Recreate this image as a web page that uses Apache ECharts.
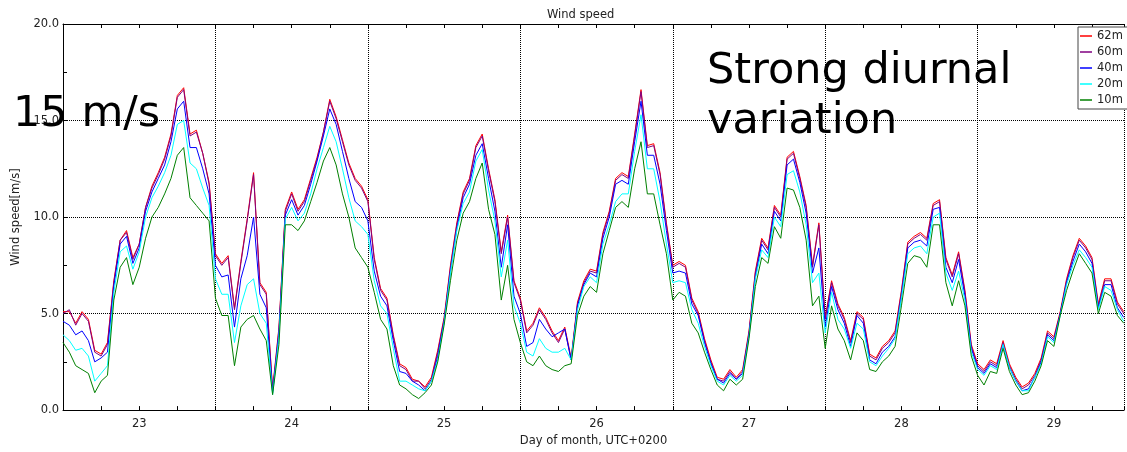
<!DOCTYPE html>
<html>
<head>
<meta charset="utf-8">
<script src="https://cdn.jsdelivr.net/npm/echarts@6/dist/echarts.min.js"></script>
<style>
html,body{margin:0;padding:0;background:#fff;}
#chart{width:1127px;height:452px;}
</style>
</head>
<body>
<div id="chart"></div>
<script>
// Hourly samples starting at day 22.5 (start of the plotted range)
const startDay = 22.5;
const samplesPerDay = 24;
const seriesNames = ['62m', '60m', '40m', '20m', '10m'];
const seriesColors = ['#ff0000', '#800080', '#0000ff', '#00ffff', '#008000'];
const dayTicks = [23, 24, 25, 26, 27, 28, 29];

const v62 = [
5.1,5.1,4.5,5.1,4.7,3.1,2.9,3.5,6.7,8.8,9.3,7.9,
8.6,10.5,11.6,12.3,13.1,14.3,16.3,16.7,14.3,14.5,13.3,11.8,
8.1,7.6,8.0,5.3,7.7,9.9,12.3,6.6,6.1,1.1,4.3,10.4,
11.3,10.4,10.9,12.0,13.1,14.4,16.1,15.2,14.0,12.8,12.0,11.6,
10.9,7.9,6.3,5.8,3.9,2.4,2.2,1.6,1.5,1.2,1.7,3.1,
4.8,7.5,9.7,11.3,12.0,13.7,14.3,12.5,10.9,8.2,10.1,6.7,
5.8,4.1,4.5,5.3,4.8,4.1,3.6,4.3,2.7,5.6,6.7,7.3,
7.2,9.2,10.3,12.0,12.3,12.1,14.3,16.6,13.7,13.8,12.3,9.7,
7.5,7.7,7.5,5.8,5.1,3.7,2.6,1.7,1.6,2.1,1.7,2.1,
4.1,7.2,8.9,8.4,10.6,10.1,13.1,13.4,12.1,10.6,7.5,9.7,
4.8,6.7,5.5,4.8,3.6,5.1,4.8,2.9,2.7,3.3,3.6,4.1,
6.2,8.7,9.0,9.2,8.9,10.7,10.9,7.9,7.0,8.2,6.2,3.4,
2.4,2.1,2.6,2.4,3.6,2.4,1.7,1.2,1.4,1.9,2.7,4.1,
3.8,5.1,6.8,8.0,8.9,8.5,7.9,5.5,6.8,6.8,5.6,5.1
];
const v60 = [
5.0,5.2,4.4,5.0,4.6,3.0,2.8,3.4,6.6,8.8,9.2,7.8,
8.6,10.5,11.5,12.2,13.0,14.2,16.2,16.6,14.2,14.4,13.3,11.7,
8.0,7.5,7.9,5.2,7.6,9.8,12.2,6.5,6.0,1.0,4.2,10.3,
11.2,10.3,10.8,11.9,13.0,14.4,16.0,15.1,13.9,12.7,11.9,11.5,
10.8,7.8,6.2,5.7,3.8,2.3,2.1,1.5,1.5,1.1,1.6,3.0,
4.7,7.4,9.6,11.2,11.9,13.6,14.2,12.4,10.8,8.1,10.0,6.6,
5.7,4.0,4.4,5.2,4.7,4.0,3.5,4.2,2.6,5.5,6.6,7.2,
7.1,9.1,10.2,11.9,12.2,12.0,14.2,16.5,13.6,13.7,12.2,9.6,
7.4,7.6,7.4,5.7,5.0,3.6,2.5,1.6,1.5,2.0,1.6,2.0,
4.0,7.1,8.8,8.3,10.5,10.0,13.0,13.3,12.0,10.5,7.4,9.6,
4.7,6.6,5.4,4.7,3.5,5.0,4.7,2.8,2.6,3.2,3.5,4.0,
6.1,8.6,8.9,9.1,8.8,10.6,10.8,7.8,6.9,8.1,6.1,3.3,
2.3,2.0,2.5,2.3,3.5,2.3,1.6,1.1,1.3,1.8,2.6,4.0,
3.7,5.0,6.7,7.9,8.8,8.4,7.8,5.4,6.7,6.7,5.5,5.0
];
const v40 = [
4.6,4.4,3.9,4.1,3.6,2.5,2.7,3.0,6.4,8.6,9.0,7.6,
8.4,10.3,11.3,12.0,12.7,13.9,15.6,16.0,13.6,13.6,12.5,11.2,
7.5,6.9,7.0,4.3,6.8,8.0,10.0,6.0,5.3,0.9,4.0,10.1,
10.9,10.1,10.6,11.7,12.9,14.2,15.6,14.8,13.4,12.0,10.8,10.5,
9.8,7.2,5.9,5.4,3.6,2.0,1.9,1.5,1.3,1.0,1.5,2.8,
4.6,7.2,9.4,11.0,11.7,13.2,13.8,12.0,10.3,7.4,9.6,5.9,
5.0,3.3,3.5,4.7,4.2,3.8,4.0,4.2,2.6,5.4,6.5,7.1,
6.9,8.9,10.0,11.7,11.9,11.7,13.9,16.0,13.2,13.2,11.7,9.3,
7.1,7.2,7.1,5.5,4.9,3.5,2.4,1.6,1.4,1.9,1.6,1.9,
3.9,6.9,8.6,8.1,10.3,9.8,12.7,13.0,11.8,10.2,7.1,8.4,
4.3,6.4,5.2,4.5,3.3,4.9,4.5,2.6,2.4,3.0,3.3,3.8,
5.9,8.4,8.7,8.8,8.5,10.4,10.5,7.4,6.6,7.8,5.9,3.2,
2.2,1.9,2.4,2.2,3.4,2.2,1.5,1.0,1.1,1.7,2.5,3.9,
3.6,5.0,6.6,7.7,8.6,8.2,7.6,5.3,6.5,6.5,5.3,4.8
];
const v20 = [
3.9,3.6,3.1,3.2,2.8,1.5,1.9,2.3,6.1,8.2,8.5,7.3,
8.2,10.0,11.0,11.6,12.3,13.2,14.8,15.0,12.8,12.5,11.5,10.6,
6.8,6.0,6.0,3.5,5.4,6.5,6.8,5.0,4.5,0.8,3.8,9.9,
10.5,9.8,10.2,11.2,12.5,13.6,14.7,13.9,12.5,11.0,9.8,9.5,
9.1,6.7,5.4,5.0,3.2,1.5,1.5,1.3,1.1,1.0,1.5,2.6,
4.5,7.1,9.3,10.7,11.3,12.9,13.5,11.4,9.8,6.9,8.8,5.4,
4.5,3.0,2.8,3.7,3.2,3.0,3.0,3.2,2.6,5.2,6.4,6.9,
6.6,8.6,9.6,10.8,11.2,11.2,13.4,15.3,12.5,12.5,10.8,8.6,
6.6,6.7,6.6,5.2,4.5,3.3,2.3,1.5,1.3,1.8,1.5,1.8,
3.8,6.8,8.3,7.9,10.0,9.5,12.2,12.4,11.3,9.6,6.6,7.1,
4.0,6.1,4.7,4.2,3.2,4.5,4.2,2.5,2.3,2.8,3.2,3.7,
5.8,8.1,8.4,8.5,8.1,10.0,10.2,7.1,6.2,7.2,5.7,3.0,
2.1,1.8,2.3,2.1,3.4,2.2,1.5,1.0,1.0,1.7,2.4,3.8,
3.5,4.9,6.5,7.5,8.3,7.9,7.4,5.2,6.4,6.2,5.2,4.6
];
const v10 = [
3.5,3.0,2.3,2.1,1.9,0.9,1.5,1.8,5.7,7.4,7.9,6.5,
7.4,8.9,10.0,10.5,11.2,12.0,13.2,13.6,11.0,10.6,10.2,9.8,
5.8,4.9,4.9,2.3,4.3,4.7,4.9,4.2,3.6,0.8,3.4,9.6,
9.6,9.3,9.8,10.8,11.8,12.9,13.6,12.7,11.2,10.0,8.4,7.9,
7.4,6.1,4.7,4.2,2.3,1.3,1.1,0.8,0.6,0.9,1.3,2.5,
4.4,6.7,8.8,10.2,10.8,12.0,12.8,10.4,9.1,5.7,7.5,4.7,
3.5,2.5,2.3,2.8,2.3,2.1,2.0,2.3,2.4,4.9,5.9,6.4,
6.1,8.1,9.3,10.5,10.8,10.5,12.5,13.9,11.2,11.2,9.6,8.1,
5.7,6.1,5.9,4.5,4.0,3.0,2.1,1.3,1.0,1.6,1.3,1.6,
3.7,6.4,7.9,7.6,9.5,8.9,11.5,11.4,10.5,8.8,5.4,5.9,
3.2,5.4,4.2,3.6,2.6,4.0,3.6,2.1,2.0,2.5,2.8,3.3,
5.4,7.6,8.0,7.9,7.4,9.6,9.6,6.6,5.4,6.7,5.4,2.8,
1.8,1.3,2.0,1.9,3.2,2.0,1.3,0.8,0.9,1.5,2.3,3.6,
3.3,4.9,6.2,7.2,8.1,7.6,7.1,5.0,6.1,5.9,4.9,4.5
];
const allValues = [v62, v60, v40, v20, v10];

const xMin = 22.5, xMax = 29.46;
const FONT = 'DejaVu Sans';

const chart = echarts.init(document.getElementById('chart'), null, {renderer: 'canvas'});

const series = seriesNames.map((name, k) => ({
  name: name,
  type: 'line',
  xAxisIndex: 0,
  yAxisIndex: 0,
  showSymbol: false,
  symbol: 'none',
  sampling: null,
  animation: false,
  lineStyle: {color: seriesColors[k], width: 1},
  itemStyle: {color: seriesColors[k]},
  data: allValues[k].map((v, i) => [startDay + i / samplesPerDay, v])
}));

const option = {
  animation: false,
  backgroundColor: '#fff',
  title: {
    text: 'Wind speed',
    left: 542, top: 4,
    textStyle: {fontFamily: FONT, fontSize: 11.5, fontWeight: 'normal', color: '#222'}
  },
  legend: {
    data: seriesNames,
    orient: 'vertical',
    left: 1078, top: 27,
    icon: 'rect',
    itemWidth: 12, itemHeight: 1.5,
    itemGap: 4,
    padding: [3, 40, 3, 2],
    backgroundColor: '#fff',
    borderColor: '#444', borderWidth: 1,
    textStyle: {fontFamily: FONT, fontSize: 11.5, color: '#222', lineHeight: 12}
  },
  grid: {left: 63, top: 24, right: 0, bottom: 37, containLabel: false},
  xAxis: [
    {
      type: 'value', position: 'bottom',
      min: xMin, max: xMax, interval: 0.25,
      name: 'Day of month, UTC+0200', nameLocation: 'middle', nameGap: 22,
      nameTextStyle: {fontFamily: FONT, fontSize: 11.5, color: '#222'},
      axisLine: {show: true, onZero: false, lineStyle: {color: '#000', width: 1}},
      axisTick: {show: true, inside: true, length: 4, lineStyle: {color: '#000'}},
      axisLabel: {
        fontFamily: FONT, fontSize: 11.5, color: '#222', margin: 8,
        formatter: v => (dayTicks.indexOf(Math.round(v * 1000) / 1000) >= 0 ? String(Math.round(v)) : '')
      },
      splitLine: {show: false}
    },
    {
      type: 'value', position: 'top',
      min: xMin, max: xMax, interval: 0.25,
      axisLine: {show: true, onZero: false, lineStyle: {color: '#000', width: 1}},
      axisTick: {show: true, inside: true, length: 4, lineStyle: {color: '#000'}},
      axisLabel: {show: false},
      splitLine: {show: false}
    },
    {
      // offset axis used only to draw the dotted day-boundary grid lines (x.5 days)
      type: 'value', position: 'bottom',
      min: 0, max: xMax - xMin, interval: 1,
      axisLine: {show: false}, axisTick: {show: false}, axisLabel: {show: false},
      splitLine: {show: true, lineStyle: {color: '#000', width: 1, type: [1, 1]}}
    }
  ],
  yAxis: [
    {
      type: 'value', min: 0, max: 20, interval: 5,
      name: 'Wind speed[m/s]', nameLocation: 'middle', nameGap: 33, nameRotate: 90,
      nameTextStyle: {fontFamily: FONT, fontSize: 11.5, color: '#222'},
      axisLine: {show: true, onZero: false, lineStyle: {color: '#000', width: 1}},
      axisTick: {show: true, inside: true, length: 4, lineStyle: {color: '#000'}},
      minorTick: {show: true, splitNumber: 2, length: 4, lineStyle: {color: '#000'}},
      axisLabel: {fontFamily: FONT, fontSize: 11.5, color: '#222', margin: 4, formatter: v => v.toFixed(1)},
      splitLine: {show: true, lineStyle: {color: '#000', width: 1, type: [1, 1]}}
    }
  ],
  graphic: [
    {type: 'text', left: 13, top: 93, z: 100,
     style: {text: '15 m/s', fontFamily: FONT, fontSize: 43, fill: '#000'}},
    {type: 'text', left: 707, top: 47, z: 100,
     style: {text: 'Strong diurnal\nvariation', fontFamily: FONT, fontSize: 43, lineHeight: 50, fill: '#000'}}
  ],
  series: series
};
chart.setOption(option);
</script>
</body>
</html>
